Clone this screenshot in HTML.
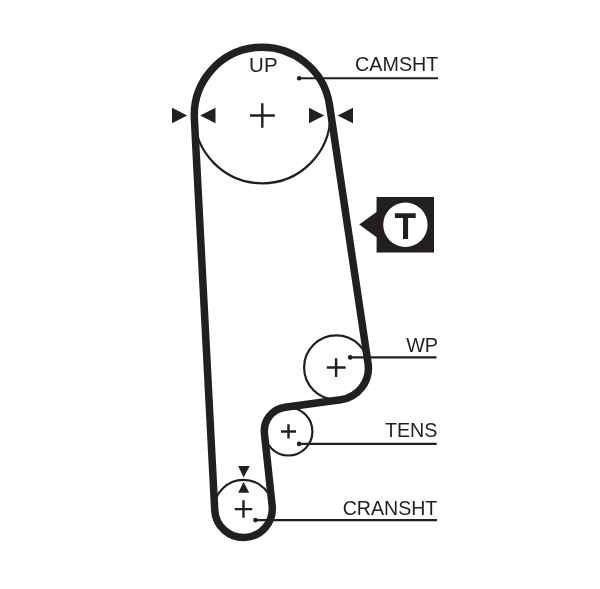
<!DOCTYPE html>
<html><head><meta charset="utf-8">
<style>
html,body{margin:0;padding:0;background:#fff;}
body{width:600px;height:589px;overflow:hidden;}
svg{display:block;}
text{font-family:"Liberation Sans", sans-serif;fill:#231f20;}
.txt{will-change:transform;}
</style></head>
<body>
<svg width="600" height="589" viewBox="0 0 600 589">
<g fill="none" stroke="#231f20" stroke-width="2.2">
<circle cx="262.3" cy="115.3" r="68"/>
<circle cx="336.3" cy="367.5" r="32.2"/>
<circle cx="288.4" cy="431.5" r="24"/>
<circle cx="243.5" cy="509.3" r="29.5"/>
</g>
<path fill="none" stroke="#231f20" stroke-width="7.5" d="M194.39 118.83 A68.00 68.00 0 0 1 329.56 105.27 L368.05 363.38 A32.00 32.00 0 0 1 340.62 399.82 L285.13 407.21 A24.00 24.00 0 0 0 264.44 433.55 L272.14 505.64 A28.80 28.80 0 1 1 214.74 510.20 L194.39 118.83 Z"/>
<g stroke="#231f20" stroke-width="2.4" fill="none">
<path d="M250 115.5H274.8M262.3 103.3V127.8"/>
<path d="M326.8 367.5H345.6M336.1 358.2V376.9"/>
<path d="M281 431.5H296M288.5 424.3V438.6"/>
<path d="M234.8 509.1H252.2M243.5 500.2V517.7"/>
</g>
<g fill="#231f20">
<polygon points="172,107.8 187.2,115.5 172,123.2"/>
<polygon points="215.5,107.8 200.2,115.5 215.5,123.2"/>
<polygon points="309,107.8 324.2,115.5 309,123.2"/>
<polygon points="353,107.8 337.6,115.5 353,123.2"/>
<polygon points="238.2,466.1 249.8,466.1 243.6,477.6"/>
<polygon points="238.2,492.8 249.2,492.8 243.6,482"/>
</g>
<g stroke="#231f20" stroke-width="2.1" fill="none">
<path d="M299.2 78.3H438"/>
<path d="M350.2 357.4H436.5"/>
<path d="M299.1 443.9H436.7"/>
<path d="M255.4 520.1H437"/>
</g>
<g fill="#231f20">
<circle cx="299.2" cy="78.3" r="2.3"/>
<circle cx="350.2" cy="357.4" r="2.3"/>
<circle cx="299.1" cy="443.9" r="2.3"/>
<circle cx="255.4" cy="520.1" r="2.3"/>
</g>
<g font-size="19.5" class="txt">
<text transform="translate(249.1 72.3) scale(1.05 1)" x="0" y="0">UP</text>
<text transform="translate(438.4 71.0) scale(1.012 1)" text-anchor="end">CAMSHT</text>
<text transform="translate(438 351.6) scale(1.015 1)" text-anchor="end">WP</text>
<text transform="translate(437.5 437.3) scale(1.012 1)" text-anchor="end">TENS</text>
<text transform="translate(437.3 514.6) scale(1.005 1)" text-anchor="end">CRANSHT</text>
</g>
<path fill="#231f20" d="M376.6 197H434V252.4H376.6V237.2L359.2 224.6L376.5 211.9Z"/>
<circle cx="405.4" cy="224.7" r="22.2" fill="#fff"/>
<path fill="#231f20" d="M394.9 213.3H415.7V217.9H408.1V239H403V217.9H394.9Z"/>
</svg>
</body></html>
